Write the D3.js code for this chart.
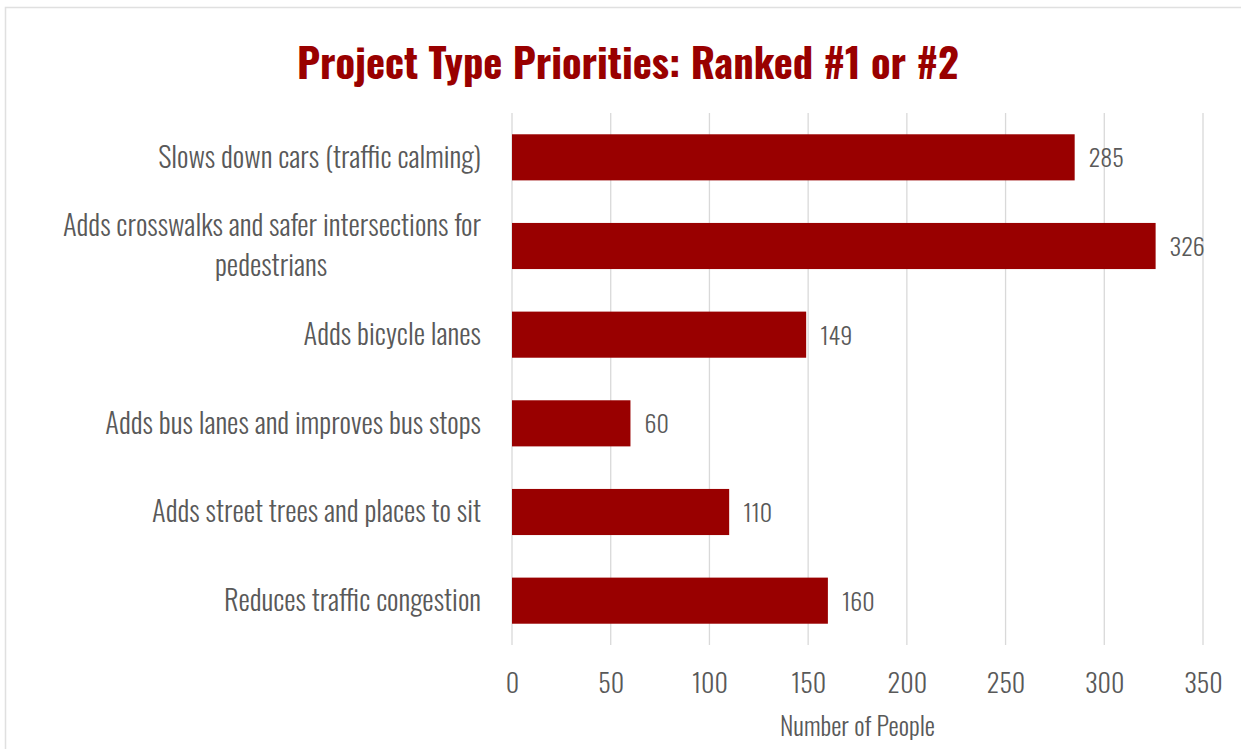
<!DOCTYPE html>
<html><head><meta charset="utf-8">
<script src="https://cdn.jsdelivr.net/npm/d3@7/dist/d3.min.js"></script>
<style>
html,body{margin:0;padding:0;background:#fff;}
svg{display:block;}
</style></head>
<body>
<svg id="chart" width="1241" height="749"></svg>
<script>
const categories = [
  ["Slows down cars (traffic calming)"],
  ["Adds crosswalks and safer intersections for", "pedestrians"],
  ["Adds bicycle lanes"],
  ["Adds bus lanes and improves bus stops"],
  ["Adds street trees and places to sit"],
  ["Reduces traffic congestion"]
];
const values = [285, 326, 149, 60, 110, 160];
const xTicks = [0, 50, 100, 150, 200, 250, 300, 350];
const title = "Project Type Priorities: Ranked #1 or #2";
const xTitle = "Number of People";

(function() {
const FONT = "'Oswald','Liberation Sans Narrow','DejaVu Sans Condensed','Roboto',sans-serif";
const RED = "#990000", GRAY = "#595959", GRID = "#d9d9d9";
const W = 300;

const svg = d3.select("#chart");
svg.append("rect").attr("x", 5.5).attr("y", 7.5).attr("width", 1260).attr("height", 760)
  .attr("fill", "#fff").attr("stroke", "#e0e0e0").attr("stroke-width", 1.5);

const pl = 512, pr = 1203, pt = 113, pb = 645;
const x = d3.scaleLinear().domain([0, 350]).range([pl, pr]);
const y = d3.scaleBand().domain(d3.range(values.length)).range([pt, pb]).paddingInner(0.48).paddingOuter(0.24);

svg.append("g").selectAll("line").data(xTicks).join("line")
  .attr("x1", d => x(d)).attr("x2", d => x(d))
  .attr("y1", pt).attr("y2", pb)
  .attr("stroke", GRID).attr("stroke-width", 1.3);

svg.append("g").selectAll("rect").data(values).join("rect")
  .attr("x", x(0)).attr("y", (d, i) => y(i))
  .attr("width", d => x(d) - x(0)).attr("height", y.bandwidth())
  .attr("fill", RED);

svg.append("g").selectAll("text").data(values).join("text")
  .attr("x", d => x(d) + 14).attr("y", (d, i) => y(i) + y.bandwidth() / 2)
  .attr("dy", "0.42em")
  .attr("font-family", FONT).attr("font-weight", W).attr("font-size", 24).attr("fill", GRAY)
  .text(d => d);

const FS = 28.6;
const cat = svg.append("g").selectAll("text").data(categories).join("text")
  .attr("x", 481)
  .attr("y", (d, i) => y(i) + y.bandwidth() / 2)
  .attr("text-anchor", "end")
  .attr("font-family", FONT).attr("font-weight", W).attr("font-size", FS).attr("fill", GRAY);
cat.each(function(lines) {
  const t = d3.select(this);
  const lh = 40;
  const n = lines.length;
  lines.forEach((ln, k) => {
    const last = n > 1 && k === n - 1;
    const ts = t.append("tspan").attr("x", last ? 271 : 481)
      .attr("dy", k === 0 ? ((0.36 * FS) - (n - 1) * lh / 2) + "px" : lh + "px")
      .text(ln);
    if (last) ts.attr("text-anchor", "middle");
  });
});

const xAxis = d3.axisBottom(x).tickValues(xTicks).tickSize(0).tickPadding(0);
const gx = svg.append("g").attr("transform", `translate(0,${pb + 48})`).call(xAxis);
gx.select(".domain").remove();
gx.selectAll("text").attr("font-family", FONT).attr("font-weight", W).attr("font-size", 26).attr("fill", GRAY)
  .attr("dy", "0");

svg.append("text").attr("x", (pl + pr) / 2).attr("y", 736)
  .attr("text-anchor", "middle").attr("font-family", FONT).attr("font-weight", W).attr("font-size", 25.7).attr("fill", GRAY)
  .text(xTitle);

svg.append("text").attr("x", 628).attr("y", 79)
  .attr("text-anchor", "middle").attr("font-family", FONT).attr("font-weight", "bold")
  .attr("font-size", 40.5).attr("fill", RED).text(title);
})();
</script>
</body></html>
